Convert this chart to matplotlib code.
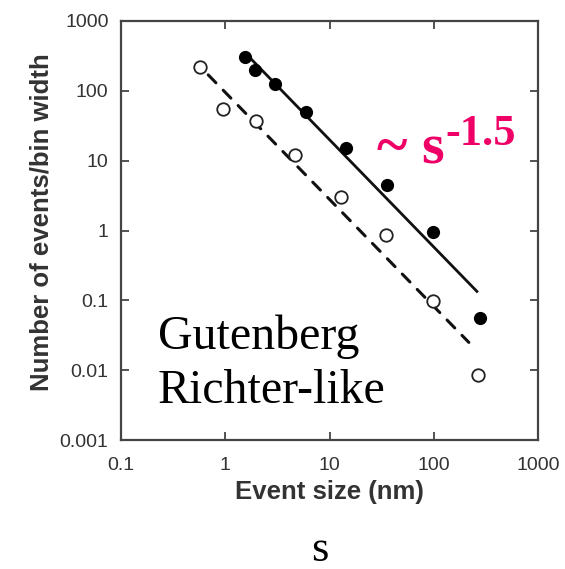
import matplotlib
matplotlib.use("Agg")
from matplotlib import pyplot as plt

# filled circles (upper series)
size_filled = [1.56, 1.94, 3.03, 5.9, 14.3, 36, 98, 275]
count_filled = [306, 200, 126, 50, 15.3, 4.5, 0.94, 0.055]

# open circles (lower series)
size_open = [0.575, 0.957, 1.99, 4.7, 12.8, 34.5, 98, 265]
count_open = [220, 55, 37, 12.2, 3.06, 0.85, 0.097, 0.0085]

# power-law guide lines (end points)
solid_x = [1.62, 265]
solid_y = [327, 0.13]
dashed_x = [0.687, 217]
dashed_y = [169, 0.025]

ticks = [0.1, 1, 10, 100, 1000]
tick_labels = ['0.1', '1', '10', '100', '1000']
yticks = [0.001, 0.01, 0.1, 1, 10, 100, 1000]
ytick_labels = ['0.001', '0.01', '0.1', '1', '10', '100', '1000']

sans = 'Liberation Sans'
serif = 'Liberation Serif'
gray = '#333333'
pink = '#ee0066'

fig = plt.figure(figsize=(5.65, 5.69), dpi=100)
ax = fig.add_axes([0.2142, 0.2267, 0.738, 0.7364])

ax.plot(solid_x, solid_y, color='#111111', lw=2.0, solid_capstyle='butt')
ax.plot(dashed_x, dashed_y, color='#111111', lw=2.2, dashes=(3.6, 3.4),
        dash_capstyle='round')
ax.plot(size_filled, count_filled, 'o', color='black', ms=9.5, mew=0)
ax.plot(size_open, count_open, 'o', mfc='white', mec='#222222', ms=9, mew=1.3)

ax.set_xscale('log')
ax.set_yscale('log')
ax.set_xlim(0.1, 1000)
ax.set_ylim(0.001, 1000)
ax.set_xticks(ticks, tick_labels)
ax.set_yticks(yticks, ytick_labels)
ax.minorticks_off()
ax.tick_params(direction='in', length=6, width=1.3, color='#444444',
               top=True, right=True, labelsize=14, labelcolor=gray)
ax.tick_params(axis='x', pad=12)
ax.tick_params(axis='y', pad=9)
for lbl in ax.get_xticklabels() + ax.get_yticklabels():
    lbl.set_fontfamily(sans)
for sp in ax.spines.values():
    sp.set_linewidth(1.6)
    sp.set_color('#444444')

ax.set_xlabel('Event size (nm)', fontsize=18.5, fontweight='bold',
              family=sans, color=gray)
ax.xaxis.set_label_coords(0.5, -0.095)
ax.set_ylabel('Number of events/bin width', fontsize=18.5, fontweight='bold',
              family=sans, color=gray)
ax.yaxis.set_label_coords(-0.163, 0.52)

ax.text(0.088, 0.088, 'Gutenberg\nRichter-like', transform=ax.transAxes,
        fontsize=34.5, family=serif, color='black', va='baseline',
        linespacing=1.3)

fig.text(377 / 565, 1 - 163 / 569, '~ s', fontsize=42, fontweight='bold',
         family=serif, color=pink, va='baseline', ha='left')
fig.text(445 / 565, 1 - 145 / 569, '-1.5', fontsize=32, fontweight='bold',
         family=serif, color=pink, va='baseline', ha='left')

fig.text(320 / 565, 1 - 561 / 569, 's', fontsize=32, family=serif,
         color='black', va='baseline', ha='center')

fig.savefig('out.png', dpi=100)
